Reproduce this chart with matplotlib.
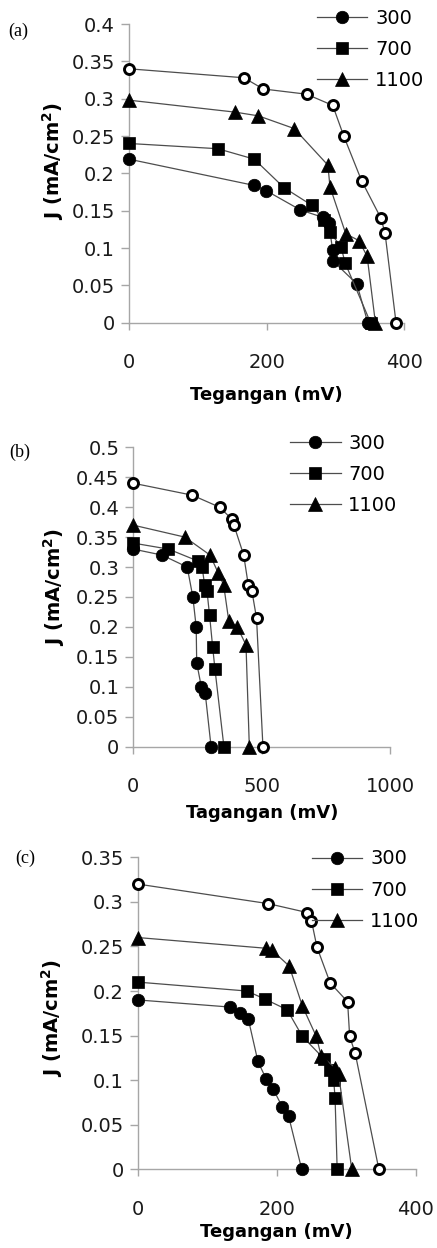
import matplotlib
matplotlib.use("Agg")
import matplotlib.pyplot as plt
from matplotlib.ticker import MultipleLocator, FuncFormatter, FixedLocator

# ---------------- data ----------------
legend_labels = ["300", "700", "1100"]

# panel (a)
a_v300 = [0, 181, 199, 249, 282, 290, 296, 296, 331, 347]
a_j300 = [0.219, 0.184, 0.177, 0.151, 0.141, 0.134, 0.097, 0.083, 0.052, 0]
a_v700 = [0, 129, 182, 225, 266, 283, 292, 308, 314, 351]
a_j700 = [0.240, 0.233, 0.219, 0.181, 0.157, 0.137, 0.121, 0.102, 0.080, 0]
a_v1100 = [0, 154, 188, 240, 289, 292, 315, 334, 346, 358]
a_j1100 = [0.298, 0.282, 0.277, 0.260, 0.211, 0.182, 0.119, 0.110, 0.089, 0]
a_vopen = [0, 167, 195, 258, 296, 312, 338, 366, 372, 388]
a_jopen = [0.340, 0.328, 0.313, 0.306, 0.291, 0.250, 0.190, 0.140, 0.120, 0]

# panel (b)
b_v300 = [0, 112, 210, 232, 245, 247, 265, 280, 303]
b_j300 = [0.33, 0.32, 0.30, 0.25, 0.20, 0.14, 0.10, 0.09, 0]
b_v700 = [0, 137, 252, 268, 278, 287, 297, 309, 318, 353]
b_j700 = [0.34, 0.33, 0.31, 0.30, 0.27, 0.26, 0.22, 0.167, 0.13, 0]
b_v1100 = [0, 201, 299, 331, 352, 372, 405, 439, 452]
b_j1100 = [0.37, 0.35, 0.32, 0.29, 0.27, 0.21, 0.20, 0.17, 0]
b_vopen = [0, 230, 336, 384, 392, 430, 448, 462, 480, 505]
b_jopen = [0.44, 0.42, 0.40, 0.38, 0.37, 0.32, 0.27, 0.26, 0.215, 0]

# panel (c)
c_v300 = [0, 133, 147, 159, 173, 185, 195, 208, 217, 236]
c_j300 = [0.19, 0.182, 0.175, 0.169, 0.121, 0.101, 0.090, 0.070, 0.060, 0]
c_v700 = [0, 157, 183, 215, 237, 268, 277, 282, 284, 287]
c_j700 = [0.21, 0.20, 0.191, 0.179, 0.149, 0.124, 0.111, 0.100, 0.080, 0]
c_v1100 = [0, 184, 193, 218, 237, 257, 264, 284, 289, 308]
c_j1100 = [0.26, 0.248, 0.246, 0.228, 0.183, 0.149, 0.127, 0.114, 0.107, 0]
c_vopen = [0, 188, 244, 250, 258, 277, 302, 305, 313, 347]
c_jopen = [0.32, 0.298, 0.288, 0.279, 0.249, 0.209, 0.188, 0.149, 0.130, 0]

x_ticks_a = [0, 200, 400]
x_ticks_b = [0, 500, 1000]
x_ticks_c = [0, 200, 400]

# ---------------- layout ----------------
W, H = 437, 1248
fig = plt.figure(figsize=(W / 100, H / 100), dpi=100)

LINE = "#4d4d4d"
AXC = "#a6a6a6"

panels = [
    dict(box=(129, 404.3, 24, 322.7), xt=x_ticks_a, ymax=0.4, xlabel="Tegangan (mV)",
         series=[(a_v300, a_j300), (a_v700, a_j700), (a_v1100, a_j1100), (a_vopen, a_jopen)],
         tag="(a)", tagpos=(8, 31), leg=(316.7, 9), xlab=(266.5, 395), ylab=(53.3, 161)),
    dict(box=(133.3, 390, 447.3, 746.7), xt=x_ticks_b, ymax=0.5, xlabel="Tagangan (mV)",
         series=[(b_v300, b_j300), (b_v700, b_j700), (b_v1100, b_j1100), (b_vopen, b_jopen)],
         tag="(b)", tagpos=(9, 452), leg=(290, 434), xlab=(261.7, 813.3), ylab=(54, 586.7)),
    dict(box=(137.7, 415.7, 857.3, 1169.3), xt=x_ticks_c, ymax=0.35, xlabel="Tegangan (mV)",
         series=[(c_v300, c_j300), (c_v700, c_j700), (c_v1100, c_j1100), (c_vopen, c_jopen)],
         tag="(c)", tagpos=(15, 858), leg=(311.7, 849.5), xlab=(276.7, 1231.7), ylab=(52.5, 1018)),
]

styles = [
    dict(marker="o", ms=9.0, mfc="black", mec="black", mew=0.5),
    dict(marker="s", ms=8.5, mfc="black", mec="black", mew=0.5),
    dict(marker="^", ms=9.5, mfc="black", mec="black", mew=0.5),
    dict(marker="o", ms=7.2, mfc="white", mec="black", mew=2.1),
]

fmt = FuncFormatter(lambda v, p: f"{round(v, 3):g}")

for P in panels:
    l, r, t, b = P["box"]
    ax = fig.add_axes([l / W, 1 - b / H, (r - l) / W, (b - t) / H])
    handles = []
    for k, ((vx, jy), st) in enumerate(zip(P["series"], styles)):
        lab = legend_labels[k] if k < 3 else "_nolegend_"
        h, = ax.plot(vx, jy, color=LINE, lw=0.9, clip_on=False, zorder=3, label=lab, **st)
        if k < 3:
            handles.append(h)
    ax.set_xlim(P["xt"][0], P["xt"][-1])
    ax.set_ylim(0, P["ymax"])
    ax.xaxis.set_major_locator(FixedLocator(P["xt"]))
    ax.yaxis.set_major_locator(MultipleLocator(0.05))
    ax.yaxis.set_major_formatter(fmt)
    for s in ("top", "right"):
        ax.spines[s].set_visible(False)
    for s in ("left", "bottom"):
        ax.spines[s].set_color(AXC)
        ax.spines[s].set_linewidth(1.0)
    ax.tick_params(axis="y", direction="out", length=6, width=1, color=AXC, pad=4,
                   labelsize=14, labelcolor="#1a1a1a")
    ax.tick_params(axis="x", direction="out", length=5, width=1, color=AXC, pad=17,
                   labelsize=14, labelcolor="#1a1a1a")

    ax.set_xlabel(P["xlabel"], fontsize=13, fontweight="bold")
    ax.xaxis.label.set_va("center")
    xl = P["xlab"]
    ax.xaxis.set_label_coords((xl[0] - l) / (r - l), (b - xl[1]) / (b - t))

    ax.set_ylabel("J (mA/cm$^\\mathbf{2}$)", fontsize=14, fontweight="bold")
    ax.yaxis.label.set_va("center")
    ax.yaxis.label.set_ha("center")
    yl = P["ylab"]
    ax.yaxis.set_label_coords((yl[0] - l) / (r - l), (b - yl[1]) / (b - t))

    lx, ly = P["leg"]
    ax.legend(handles, legend_labels, loc="upper left", bbox_to_anchor=(lx / W, 1 - ly / H),
              bbox_transform=fig.transFigure, frameon=False, fontsize=14, handlelength=2.6,
              handletextpad=0.4, labelspacing=0.62, borderpad=0, borderaxespad=0, numpoints=1)

    tx, ty = P["tagpos"]
    fig.text(tx / W, 1 - ty / H, P["tag"], fontsize=13, family="Liberation Serif",
             ha="left", va="center")

fig.savefig("out.png", dpi=100)
